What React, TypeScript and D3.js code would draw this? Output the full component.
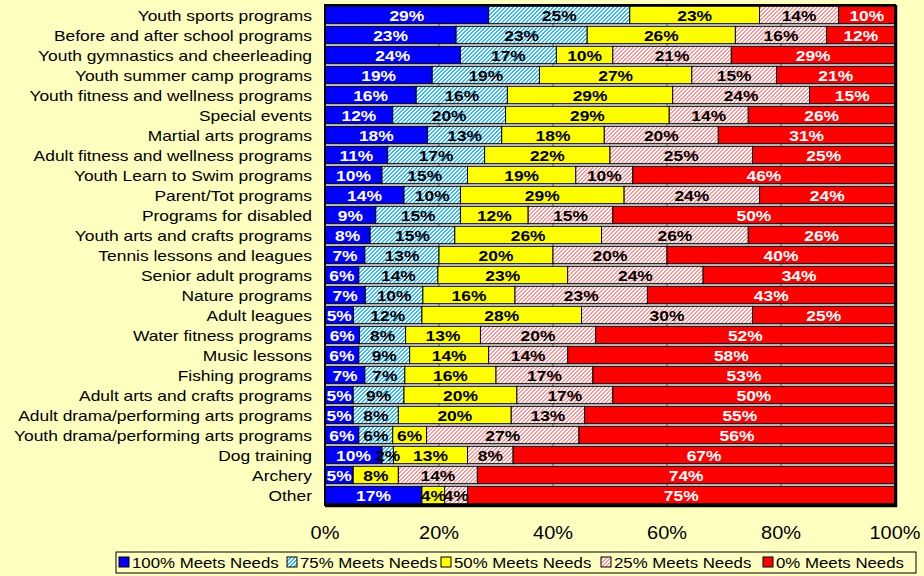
import React from "react";
import * as d3 from "d3";

const categories = [
  "Youth sports programs",
  "Before and after school programs",
  "Youth gymnastics and cheerleading",
  "Youth summer camp programs",
  "Youth fitness and wellness programs",
  "Special events",
  "Martial arts programs",
  "Adult fitness and wellness programs",
  "Youth Learn to Swim programs",
  "Parent/Tot programs",
  "Programs for disabled",
  "Youth arts and crafts programs",
  "Tennis lessons and leagues",
  "Senior adult programs",
  "Nature programs",
  "Adult leagues",
  "Water fitness programs",
  "Music lessons",
  "Fishing programs",
  "Adult arts and crafts programs",
  "Adult drama/performing arts programs",
  "Youth drama/performing arts programs",
  "Dog training",
  "Archery",
  "Other",
];

const meets100 = [29, 23, 24, 19, 16, 12, 18, 11, 10, 14, 9, 8, 7, 6, 7, 5, 6, 6, 7, 5, 5, 6, 10, 5, 17];
const meets75 = [25, 23, 17, 19, 16, 20, 13, 17, 15, 10, 15, 15, 13, 14, 10, 12, 8, 9, 7, 9, 8, 6, 2, 0, 0];
const meets50 = [23, 26, 10, 27, 29, 29, 18, 22, 19, 29, 12, 26, 20, 23, 16, 28, 13, 14, 16, 20, 20, 6, 13, 8, 4];
const meets25 = [14, 16, 21, 15, 24, 14, 20, 25, 10, 24, 15, 26, 20, 24, 23, 30, 20, 14, 17, 17, 13, 27, 8, 14, 4];
const meets0 = [10, 12, 29, 21, 15, 26, 31, 25, 46, 24, 50, 26, 40, 34, 43, 25, 52, 58, 53, 50, 55, 56, 67, 74, 75];

const seriesNames = ["100% Meets Needs", "75% Meets Needs", "50% Meets Needs", "25% Meets Needs", "0% Meets Needs"];
const tickValues = [0, 0.2, 0.4, 0.6, 0.8, 1];

const FONT = "'Liberation Sans', Arial, sans-serif";

function SText(props: any) {
  const { x, y, anchor, sx = 1.16, children, ...rest } = props;
  return (
    <text
      transform={`translate(${x},${y}) scale(${sx},1)`}
      textAnchor={anchor}
      fontFamily={FONT}
      {...rest}
    >
      {children}
    </text>
  );
}

export default function App() {
  const W = 924;
  const H = 576;
  const left = 325;
  const right = 895;
  const top = 5;
  const bottom = 505;

  const rows = categories.map((c, i) => ({
    cat: c,
    s0: meets100[i],
    s1: meets75[i],
    s2: meets50[i],
    s3: meets25[i],
    s4: meets0[i],
  }));
  const keys = ["s0", "s1", "s2", "s3", "s4"];
  const stacked = d3.stack<any>().keys(keys).offset(d3.stackOffsetExpand)(rows);

  const x = d3.scaleLinear().domain([0, 1]).range([left, right]);
  const y = d3
    .scaleBand<string>()
    .domain(categories)
    .range([top, bottom])
    .paddingInner(0.13)
    .paddingOuter(0.065);

  const fills = ["#0000FF", "url(#pBlue)", "#FFFF00", "url(#pPink)", "#FF0000"];
  const textColors = ["#FFFFFF", "#000000", "#000000", "#000000", "#FFFFFF"];
  const legendX = [119, 287, 441, 601, 763];

  const bw = y.bandwidth();

  return (
    <svg width={W} height={H} style={{ position: "absolute", left: 0, top: 0 }}>
      <defs>
        <pattern id="pBlue" width={4} height={4} patternUnits="userSpaceOnUse">
          <rect width={4} height={4} fill="#FFFFFF" />
          {[0, 1, 2, 3].map((r) => (
            <g key={r} shapeRendering="crispEdges">
              <rect x={(3 - r + 4) % 4} y={r} width={1} height={1} fill="#33BBFF" />
              <rect x={(4 - r + 4) % 4} y={r} width={1} height={1} fill="#33BBFF" />
            </g>
          ))}
        </pattern>
        <pattern id="pPink" width={4} height={4} patternUnits="userSpaceOnUse">
          <rect width={4} height={4} fill="#FFFFFF" />
          {[0, 1, 2, 3].map((r) => (
            <g key={r} shapeRendering="crispEdges">
              <rect x={(3 - r + 4) % 4} y={r} width={1} height={1} fill="#FF9999" />
              <rect x={(4 - r + 4) % 4} y={r} width={1} height={1} fill="#FF9999" />
            </g>
          ))}
        </pattern>
      </defs>
      <rect x={0} y={0} width={W} height={H} fill="#FFFFC0" />
      {/* plot area */}
      <rect x={left} y={top} width={right - left} height={bottom - top} fill="#C8C8C8" />
      {categories.map((c) => (
        <line
          key={"w" + c}
          x1={left}
          x2={right}
          y1={(y(c) as number) + bw + 1.5}
          y2={(y(c) as number) + bw + 1.5}
          stroke="#FFFFFF"
          strokeWidth={1}
        />
      ))}
      {tickValues.slice(1, -1).map((t) => (
        <line key={t} x1={x(t)} x2={x(t)} y1={top} y2={bottom} stroke="#606060" strokeWidth={1} />
      ))}
      {/* bars */}
      {stacked.map((s, si) => (
        <g key={si}>
          {s.map((d: any, i: number) => {
            const val = (rows[i] as any)[keys[si]];
            if (val <= 0) return null;
            return (
              <rect
                key={i}
                x={x(d[0])}
                y={y(d.data.cat)}
                width={x(d[1]) - x(d[0])}
                height={bw}
                fill={fills[si]}
                stroke="#000000"
                strokeWidth={1}
              />
            );
          })}
        </g>
      ))}
      {/* value labels */}
      {stacked.map((s, si) => (
        <g key={"l" + si}>
          {s.map((d: any, i: number) => {
            const val = (rows[i] as any)[keys[si]];
            if (val <= 0) return null;
            return (
              <SText
                key={i}
                x={(x(d[0]) + x(d[1])) / 2}
                y={(y(d.data.cat) as number) + bw / 2 + 5.5}
                anchor="middle"
                fontSize={15}
                fontWeight="bold"
                fill={textColors[si]}
              >
                {val + "%"}
              </SText>
            );
          })}
        </g>
      ))}
      {/* plot border */}
      <rect x={left} y={top} width={right - left} height={bottom - top} fill="none" stroke="#000" strokeWidth={2} />
      <line x1={right + 1.5} x2={right + 1.5} y1={top} y2={bottom + 2} stroke="#000" strokeWidth={1.5} />
      <line x1={left} x2={right + 2} y1={bottom + 1.5} y2={bottom + 1.5} stroke="#000" strokeWidth={1.5} />
      {/* category labels */}
      {categories.map((c) => (
        <SText key={"c" + c} x={312} y={(y(c) as number) + bw / 2 + 5.5} anchor="end" fontSize={15} fill="#000">
          {c}
        </SText>
      ))}
      {/* x ticks */}
      {tickValues.map((t) => (
        <SText key={"t" + t} x={x(t)} y={539} anchor="middle" fontSize={19} sx={1.05} fill="#000">
          {Math.round(t * 100) + "%"}
        </SText>
      ))}
      {/* legend */}
      <rect x={116} y={552} width={800} height={21} fill="none" stroke="#000" strokeWidth={1} />
      {seriesNames.map((n, i) => (
        <g key={"lg" + i}>
          <rect x={legendX[i]} y={557} width={10} height={10} fill={fills[i]} stroke="#000" strokeWidth={1} />
          <SText x={legendX[i] + 13} y={567.5} anchor="start" fontSize={14.5} fill="#000">
            {n}
          </SText>
        </g>
      ))}
    </svg>
  );
}
